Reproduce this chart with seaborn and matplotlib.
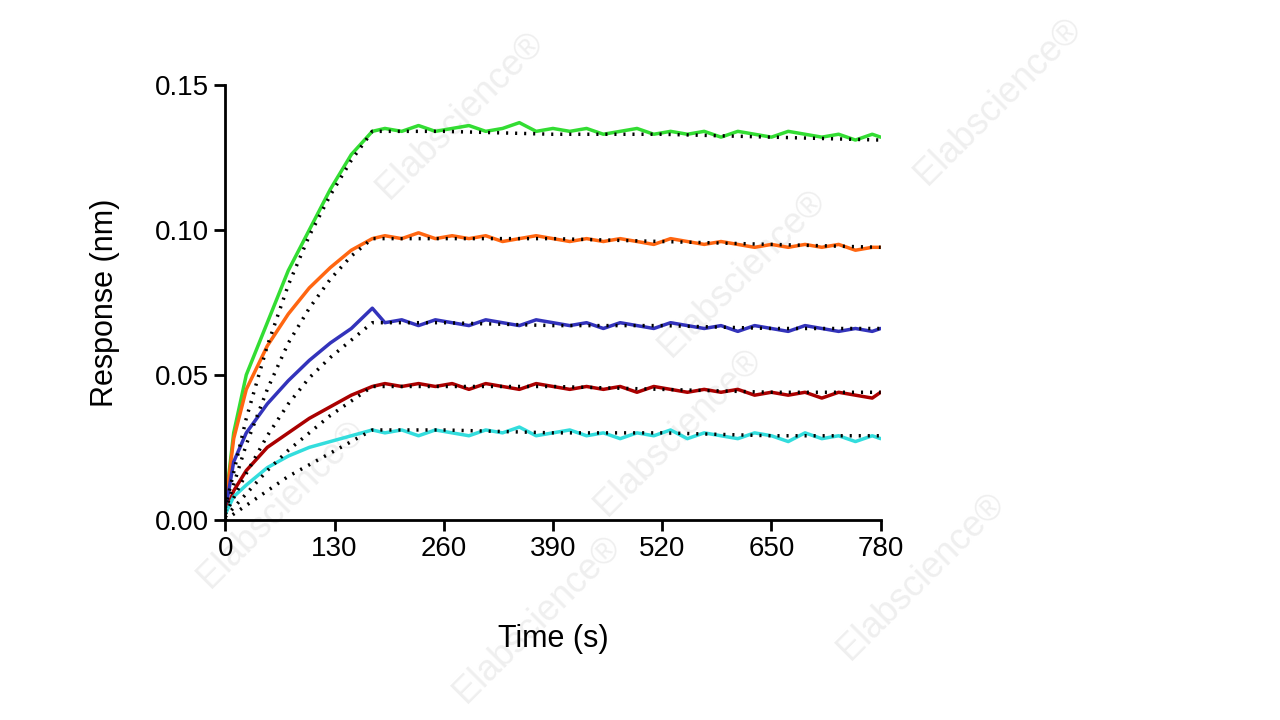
import matplotlib
matplotlib.use("Agg")
import matplotlib.pyplot as plt
import seaborn as sns
import pandas as pd

# time points (s)
time = [0, 10, 25, 50, 75, 100, 125, 150, 175,
        190, 210, 230, 250, 270, 290, 310, 330, 350, 370, 390, 410, 430, 450, 470,
        490, 510, 530, 550, 570, 590, 610, 630, 650, 670, 690, 710, 730, 750, 770, 780]

green = [0.005, 0.030, 0.050, 0.068, 0.086, 0.100, 0.114, 0.126, 0.134,
         0.135, 0.134, 0.136, 0.134, 0.135, 0.136, 0.134, 0.135, 0.137, 0.134, 0.135,
         0.134, 0.135, 0.133, 0.134, 0.135, 0.133, 0.134, 0.133, 0.134, 0.132, 0.134,
         0.133, 0.132, 0.134, 0.133, 0.132, 0.133, 0.131, 0.133, 0.132]
orange = [0.004, 0.028, 0.045, 0.060, 0.071, 0.080, 0.087, 0.093, 0.097,
          0.098, 0.097, 0.099, 0.097, 0.098, 0.097, 0.098, 0.096, 0.097, 0.098, 0.097,
          0.096, 0.097, 0.096, 0.097, 0.096, 0.095, 0.097, 0.096, 0.095, 0.096, 0.095,
          0.094, 0.095, 0.094, 0.095, 0.094, 0.095, 0.093, 0.094, 0.094]
blue = [0.003, 0.020, 0.030, 0.040, 0.048, 0.055, 0.061, 0.066, 0.073,
        0.068, 0.069, 0.067, 0.069, 0.068, 0.067, 0.069, 0.068, 0.067, 0.069, 0.068,
        0.067, 0.068, 0.066, 0.068, 0.067, 0.066, 0.068, 0.067, 0.066, 0.067, 0.065,
        0.067, 0.066, 0.065, 0.067, 0.066, 0.065, 0.066, 0.065, 0.066]
darkred = [0.002, 0.010, 0.017, 0.025, 0.030, 0.035, 0.039, 0.043, 0.046,
           0.047, 0.046, 0.047, 0.046, 0.047, 0.045, 0.047, 0.046, 0.045, 0.047, 0.046,
           0.045, 0.046, 0.045, 0.046, 0.044, 0.046, 0.045, 0.044, 0.045, 0.044, 0.045,
           0.043, 0.044, 0.043, 0.044, 0.042, 0.044, 0.043, 0.042, 0.044]
cyan = [0.002, 0.008, 0.012, 0.018, 0.022, 0.025, 0.027, 0.029, 0.031,
        0.030, 0.031, 0.029, 0.031, 0.030, 0.029, 0.031, 0.030, 0.032, 0.029, 0.030,
        0.031, 0.029, 0.030, 0.028, 0.030, 0.029, 0.031, 0.028, 0.030, 0.029, 0.028,
        0.030, 0.029, 0.027, 0.030, 0.028, 0.029, 0.027, 0.029, 0.028]

# 1:1 fit curves (dotted)
fit_time = [0, 25, 50, 75, 100, 125, 150, 175, 260, 390, 520, 650, 780]
fit_green = [0.004, 0.035, 0.060, 0.081, 0.098, 0.112, 0.124, 0.134, 0.134, 0.133, 0.133, 0.132, 0.131]
fit_orange = [0.003, 0.026, 0.045, 0.061, 0.073, 0.083, 0.091, 0.097, 0.097, 0.097, 0.096, 0.095, 0.094]
fit_blue = [0.002, 0.016, 0.029, 0.040, 0.049, 0.056, 0.062, 0.068, 0.068, 0.067, 0.067, 0.066, 0.066]
fit_darkred = [0.001, 0.009, 0.017, 0.024, 0.030, 0.036, 0.041, 0.046, 0.046, 0.046, 0.045, 0.044, 0.044]
fit_cyan = [0.000, 0.005, 0.010, 0.015, 0.019, 0.023, 0.027, 0.031, 0.031, 0.030, 0.030, 0.029, 0.029]

series = {"green": (green, fit_green, "#33dd33"),
          "orange": (orange, fit_orange, "#ff6611"),
          "blue": (blue, fit_blue, "#3333bb"),
          "darkred": (darkred, fit_darkred, "#aa0000"),
          "cyan": (cyan, fit_cyan, "#33dddd")}

sns.set_style("ticks")
plt.rcParams['font.family'] = ['Liberation Sans', 'DejaVu Sans']

fig = plt.figure(figsize=(12.8, 7.2), dpi=100)
ax = fig.add_axes([0.176, 0.278, 0.512, 0.604], zorder=2)

# faint watermarks
for x, y in [(0.36, 0.84), (0.78, 0.86), (0.58, 0.62), (0.53, 0.40),
             (0.22, 0.30), (0.72, 0.20), (0.42, 0.14)]:
    fig.text(x, y, "Elabscience\u00ae", fontsize=26, color="#efefef", rotation=45,
             ha="center", va="center", zorder=0)

for name, (vals, fit, col) in series.items():
    df = pd.DataFrame({"t": time, "r": vals})
    sns.lineplot(data=df, x="t", y="r", color=col, linewidth=2.5, ax=ax)
    dff = pd.DataFrame({"t": fit_time, "r": fit})
    sns.lineplot(data=dff, x="t", y="r", color="black", linewidth=2.5,
                 linestyle=(0, (0.6, 2.0)), ax=ax, zorder=5)

ax.patch.set_alpha(0)
ax.set_xlim(0, 780)
ax.set_ylim(0, 0.15)
ax.set_xticks([0, 130, 260, 390, 520, 650, 780])
ax.set_yticks([0, 0.05, 0.10, 0.15])
ax.set_yticklabels(["0.00", "0.05", "0.10", "0.15"])
ax.tick_params(labelsize=20, width=2, length=8, direction="out",
               colors="black", labelcolor="black")
for s in ["left", "bottom"]:
    ax.spines[s].set_linewidth(2)
    ax.spines[s].set_color("black")
sns.despine(ax=ax)
ax.set_xlabel("Time (s)", fontsize=22, labelpad=45, color="black")
ax.set_ylabel("Response (nm)", fontsize=22, labelpad=25, color="black")

fig.savefig("out.png", dpi=100)
